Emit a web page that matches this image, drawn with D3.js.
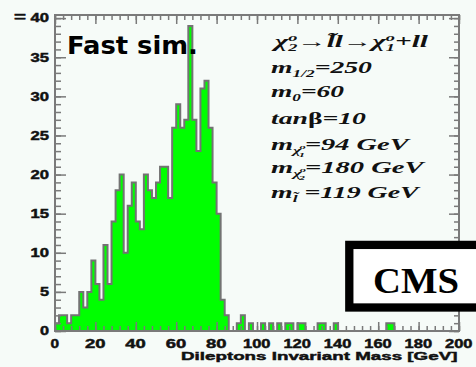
<!DOCTYPE html>
<html><head><meta charset="utf-8">
<script src="https://cdn.jsdelivr.net/npm/d3@7"></script>
<style>html,body{margin:0;padding:0;background:#f6fbf8;}svg{display:block}</style>
</head><body>
<svg id="c" width="476" height="367"></svg>
<script>
// ---- data ----
const binWidth = 2;
const binLowEdges = d3.range(0, 200, binWidth);
const counts = [
  1,2,2,1,2,2,5,3,5,9,
  6,4,11,6,14,18,20,10,16,19,
  14,13,20,18,17,19,21,21,17,26,
  29,26,27,39,27,23,31,32,26,19,
  15,4,2,0,0,1,2,0,1,0,
  0,1,0,1,0,1,0,1,1,0,
  1,1,0,0,0,1,1,0,0,1,
  0,0,0,0,0,0,0,0,0,0,
  0,0,1,1,0,0,0,0,0,0,
  0,0,0,0,0,0,0,0,0,0
];
const xMajorTicks = [0,20,40,60,80,100,120,140,160,180,200];
const xMinorTicks = d3.range(0, 201, 4);
const yMajorTicks = [0,5,10,15,20,25,30,35,40];
const yMinorTicks = d3.range(0, 41, 1);
const xTitle = "Dileptons Invariant Mass [GeV]";
const simLabel = "Fast sim.";
const cmsLabel = "CMS";

// ---- layout ----
const svg = d3.select("#c");
const x = d3.scaleLinear([0, 200], [55, 459]);
const y = d3.scaleLinear([0, 40.4], [331, 15]);
const frameColor = "#7a7a7a";

svg.append("rect").attr("width",476).attr("height",367).attr("fill","#f6fbf8");

// histogram
const pts = [{e:0,c:0}].concat(binLowEdges.map((e,i)=>({e, c:counts[i]}))).concat([{e:200,c:0}]);
const area = d3.area().curve(d3.curveStepAfter).x(d=>x(d.e)).y0(y(0)).y1(d=>y(d.c));
const line = d3.line().curve(d3.curveStepAfter).x(d=>x(d.e)).y(d=>y(d.c));
svg.append("path").attr("d", area(pts)).attr("fill","#00ff00");
svg.append("path").attr("d", line(pts)).attr("fill","none").attr("stroke","#737373").attr("stroke-width",2);

// axes (ticks)
function axisTicks(axisFn, scale, vals, size, tr){
  const g = svg.append("g").attr("transform", tr)
    .call(axisFn(scale).tickValues(vals).tickSize(size).tickFormat(""));
  g.select(".domain").remove();
  g.selectAll("line").attr("stroke", frameColor).attr("stroke-width",1.5);
}
axisTicks(d3.axisBottom, x, xMinorTicks, -5, `translate(0,${y(0)})`);
axisTicks(d3.axisBottom, x, xMajorTicks, -9, `translate(0,${y(0)})`);
axisTicks(d3.axisTop, x, xMinorTicks, -5, `translate(0,15)`);
axisTicks(d3.axisTop, x, xMajorTicks, -9, `translate(0,15)`);
axisTicks(d3.axisLeft, y, yMinorTicks, -6, `translate(55,0)`);
axisTicks(d3.axisLeft, y, yMajorTicks, -11, `translate(55,0)`);
axisTicks(d3.axisRight, y, yMinorTicks, -5, `translate(459,0)`);
axisTicks(d3.axisRight, y, yMajorTicks, -10, `translate(459,0)`);

// frame
svg.append("rect").attr("x",x(0)).attr("y",15).attr("width",x(200)-x(0)).attr("height",y(0)-15)
  .attr("fill","none").attr("stroke",frameColor).attr("stroke-width",2);

// text helper: build text, measure, scale horizontally to target width
function placeText(build, px, baseline, targetW, anchor){
  const g = svg.append("g");
  const t = g.append("text").attr("x",0).attr("y",0);
  build(t);
  const bb = t.node().getBBox();
  const s = targetW / bb.width;
  let left = px;
  if (anchor === "end") left = px - targetW;
  if (anchor === "middle") left = px - targetW/2;
  g.attr("transform", `translate(${left - bb.x*s},${baseline}) scale(${s},1)`);
  return g;
}
const sansBold = t => t.attr("font-family","Liberation Sans, Arial, sans-serif").attr("font-weight","bold")
  .attr("font-size",12).attr("fill","#111").attr("stroke","#111").attr("stroke-width",0.45);

// y tick labels
yMajorTicks.forEach(v=>{
  const s = String(v);
  placeText(t=>sansBold(t).text(s), 49.5, y(v)+4.3, s.length*9.5, "end");
});
placeText(t=>sansBold(t).text("="), 14, 20.5, 12, "start");

// x tick labels
xMajorTicks.forEach(v=>{
  const s = String(v);
  const w = s.length===1 ? 9 : (s.length===2 ? 21 : 28);
  placeText(t=>sansBold(t).text(s), x(v), 347.5, w, "middle");
});

// x title
placeText(t=>sansBold(t).attr("font-size",11.5).text(xTitle), 458, 360, 277, "end");

// Fast sim.
placeText(t=>t.attr("font-family","DejaVu Sans, sans-serif").attr("font-weight","bold").attr("font-size",25).attr("fill","#000").text(simLabel), 67, 54, 131, "start");

// physics parameters
const paramLines = [
  {w:158, b:47, seg:[["χ"],["2",10,4],["o",10,-6,-5],["→"],["l̃"],["l"],["→"],["χ"],["1",10,4],["o",10,-6,-5],["+ll"]]},
  {w:101, b:72.5, seg:[["m"],["1/2",10,4],["=250"]]},
  {w:73, b:96.5, seg:[["m"],["0",10,4],["=60"]]},
  {w:95, b:124, seg:[["tan"],["β",null,0,0,true],["=10"]]},
  {w:140, b:150, seg:[["m"],["χ",10,4],["o",7,-1,-1],["1",7,7,-4],["=94 GeV"]]},
  {w:155, b:173, seg:[["m"],["χ",10,4],["o",7,-1,-1],["2",7,7,-4],["=180 GeV"]]},
  {w:150, b:198, seg:[["m"],["l̃",10,4],[" =119 GeV"]]}
];
paramLines.forEach(L=>{
  placeText(t=>{
    t.attr("font-family","Liberation Serif, Times New Roman, serif").attr("font-weight","bold")
     .attr("font-style","italic").attr("font-size",16).attr("fill","#111");
    L.seg.forEach(sg=>{
      const ts = t.append("tspan").attr("y", sg[2]||0).text(sg[0]);
      if (sg[1]) ts.attr("font-size", sg[1]);
      if (sg[3]) ts.attr("dx", sg[3]);
      if (sg[4]) ts.attr("font-style","normal");
    });
  }, 271, L.b, L.w, "start");
});

// CMS box
svg.append("rect").attr("x",349.3).attr("y",244.9).attr("width",150).attr("height",62.6)
  .attr("fill","#ffffff").attr("stroke","#000").attr("stroke-width",8.3);
placeText(t=>t.attr("font-family","Liberation Serif, Times New Roman, serif").attr("font-weight","bold")
  .attr("font-size",35).attr("fill","#000").text(cmsLabel), 373, 293, 86, "start");
</script>
</body></html>
